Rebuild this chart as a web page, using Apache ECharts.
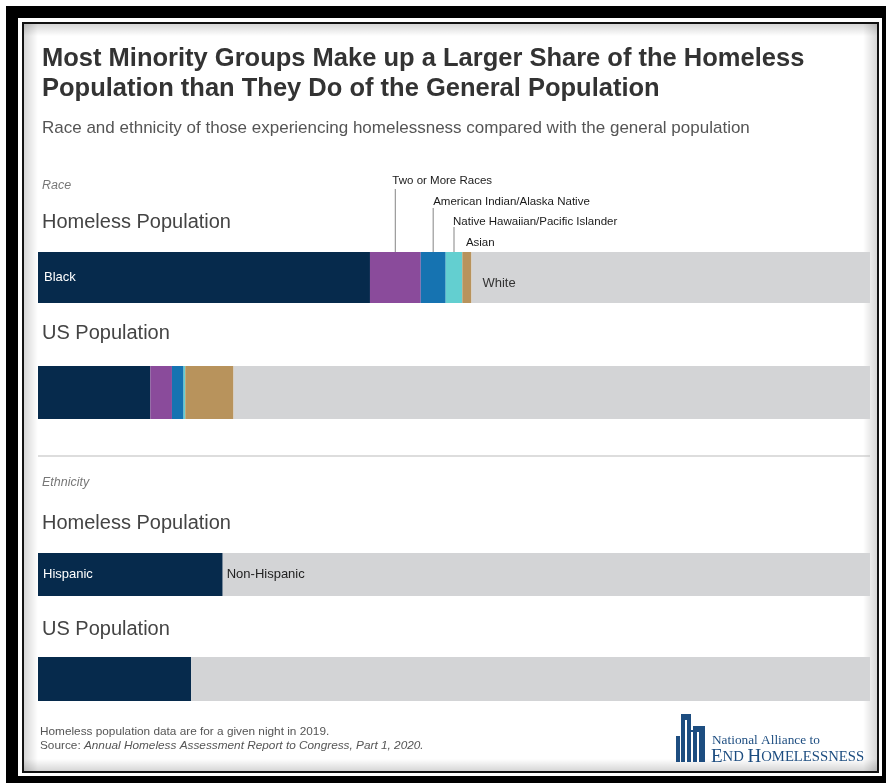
<!DOCTYPE html>
<html>
<head>
<meta charset="utf-8">
<script src="https://cdn.jsdelivr.net/npm/echarts@6/dist/echarts.min.js"></script>
<style>
  html, body { margin: 0; padding: 0; background: #fff; }
  #chart { width: 886px; height: 783px; }
</style>
</head>
<body>
<div id="chart"></div>
<script>
// data (shares in %)
const raceNames = ['Black', 'Two or More Races', 'American Indian/Alaska Native',
  'Native Hawaiian/Pacific Islander', 'Asian', 'White'];
const raceHomeless = [39.9, 6.1, 3.0, 2.0, 1.1, 47.9];
const raceUS = [13.5, 2.6, 1.4, 0.2, 5.8, 76.5];
const ethNames = ['Hispanic', 'Non-Hispanic'];
const ethHomeless = [22.2, 77.8];
const ethUS = [18.4, 81.6];

const raceColors = ['#062a4c', '#8a4b9b', '#1673b1', '#63cfd0', '#b8935c', '#d3d4d6'];
const ethColors = ['#062a4c', '#d3d4d6'];

const chart = echarts.init(document.getElementById('chart'));
const FONT = 'Liberation Sans, Arial, sans-serif';

const grids = [
  { left: 38, width: 832, top: 252, height: 51 },
  { left: 38, width: 832, top: 366, height: 53 },
  { left: 38, width: 832, top: 553, height: 43 },
  { left: 38, width: 832, top: 657, height: 44 }
];

function stack(names, values, colors, idx, labels) {
  return names.map((n, i) => ({
    type: 'bar',
    name: n,
    stack: 'g' + idx,
    xAxisIndex: idx,
    yAxisIndex: idx,
    barWidth: '100%',
    silent: true,
    itemStyle: { color: colors[i] },
    label: labels && labels[i] ? Object.assign({
      show: true,
      position: 'insideLeft',
      formatter: n,
      fontFamily: FONT,
      fontSize: 13
    }, labels[i]) : { show: false },
    data: [values[i]]
  }));
}

const series = [].concat(
  stack(raceNames, raceHomeless, raceColors, 0,
    [{ color: '#fff', offset: [1, 0] }, null, null, null, null, { color: '#333', offset: [6, 6] }]),
  stack(raceNames, raceUS, raceColors, 1),
  stack(ethNames, ethHomeless, ethColors, 2,
    [{ color: '#fff', offset: [0, 0] }, { color: '#222', offset: [-1, 0] }]),
  stack(ethNames, ethUS, ethColors, 3)
);

chart.setOption({
  animation: false,
  title: [{
    text: 'Most Minority Groups Make up a Larger Share of the Homeless\nPopulation than They Do of the General Population',
    left: 37, top: 39,
    textStyle: { fontFamily: FONT, fontSize: 25.5, fontWeight: 'bold', color: '#333', lineHeight: 30 }
  }, {
    text: 'Race and ethnicity of those experiencing homelessness compared with the general population',
    left: 37, top: 115,
    textStyle: { fontFamily: FONT, fontSize: 17, fontWeight: 'normal', color: '#555' }
  }],
  grid: grids,
  xAxis: grids.map((g, i) => ({ type: 'value', gridIndex: i, min: 0, max: 100, show: false })),
  yAxis: grids.map((g, i) => ({ type: 'category', gridIndex: i, data: ['share'], show: false })),
  series: series
});

// leader lines / labels for the thin race segments, placed via the axis scale
let cum = 0;
const mids = raceHomeless.map(v => { const m = cum + v / 2; cum += v; return m; });
const px = i => chart.convertToPixel({ xAxisIndex: 0 }, mids[i]);
const barTop = grids[0].top;

const notes = [
  { i: 1, lineTop: 189, textY: 181, dx: -3, line: true },
  { i: 2, lineTop: 208, textY: 202, dx: 0, line: true },
  { i: 3, lineTop: 227, textY: 222, dx: -1, line: true },
  { i: 4, lineTop: 0, textY: 243, dx: -1, line: false }
];

function txt(x, y, s, size, color, extra) {
  return {
    type: 'text', x: x, y: y, silent: true,
    style: Object.assign({ text: s, fontFamily: FONT, fontSize: size, fill: color, textVerticalAlign: 'middle' }, extra || {})
  };
}

const els = [];
// frame
els.push({ type: 'rect', shape: { x: 6, y: 6, width: 880, height: 777 }, style: { fill: '#000' }, z: -10 });
els.push({ type: 'rect', shape: { x: 18, y: 18, width: 864, height: 758 }, style: { fill: '#fff' }, z: -9 });
els.push({ type: 'rect', shape: { x: 22, y: 22, width: 857, height: 751 }, style: { fill: '#111' }, z: -8 });
els.push({ type: 'rect', shape: { x: 24, y: 24, width: 853, height: 747 }, style: { fill: '#fff' }, z: -7 });
// soft inner shading along the edges
const grad = (x1, y1, x2, y2) => new echarts.graphic.LinearGradient(x1, y1, x2, y2, [
  { offset: 0, color: 'rgba(0,0,0,0.16)' }, { offset: 1, color: 'rgba(0,0,0,0)' }]);
const shade = (x, y, w, h, g) => ({
  type: 'rect', shape: { x: x, y: y, width: w, height: h }, z: -6, silent: true, style: { fill: g }
});
els.push(shade(24, 24, 14, 747, grad(0, 0, 1, 0)));
els.push(shade(24, 24, 853, 12, grad(0, 0, 0, 1)));
els.push(shade(863, 24, 14, 747, grad(1, 0, 0, 0)));
els.push(shade(24, 759, 853, 12, grad(0, 1, 0, 0)));

// section labels
els.push(txt(42, 186, 'Race', 12.5, '#777', { fontStyle: 'italic' }));
els.push(txt(42, 222, 'Homeless Population', 20, '#444'));
els.push(txt(42, 333, 'US Population', 20, '#444'));
els.push({ type: 'line', shape: { x1: 38, y1: 456, x2: 870, y2: 456 }, style: { stroke: '#bbb', lineWidth: 1 } });
els.push(txt(42, 483, 'Ethnicity', 12.5, '#777', { fontStyle: 'italic' }));
els.push(txt(42, 523, 'Homeless Population', 20, '#444'));
els.push(txt(42, 629, 'US Population', 20, '#444'));

notes.forEach(n => {
  const x = px(n.i);
  if (n.line) {
    els.push({ type: 'line', shape: { x1: x, y1: n.lineTop, x2: x, y2: barTop }, style: { stroke: '#999', lineWidth: 1.2 } });
  }
  els.push(txt(x + n.dx, n.textY, raceNames[n.i], 11.5, '#1a1a1a'));
});

// footer
els.push(txt(40, 732, 'Homeless population data are for a given night in 2019.', 11.8, '#555'));
els.push({
  type: 'text', x: 40, y: 746, silent: true,
  style: {
    text: '{a|Source: }{b|Annual Homeless Assessment Report to Congress, Part 1, 2020.}',
    textVerticalAlign: 'middle',
    rich: {
      a: { fontFamily: FONT, fontSize: 11.8, fill: '#555', color: '#555' },
      b: { fontFamily: FONT, fontSize: 11.8, fontStyle: 'italic', fill: '#555', color: '#555' }
    }
  }
});

// logo
const navy = '#1d4d80';
els.push({ type: 'rect', shape: { x: 681, y: 714, width: 10, height: 48 }, style: { fill: navy } });
els.push({ type: 'rect', shape: { x: 676, y: 736, width: 4, height: 26 }, style: { fill: navy } });
els.push({ type: 'rect', shape: { x: 693, y: 726, width: 12, height: 36 }, style: { fill: navy } });
els.push({ type: 'rect', shape: { x: 685, y: 720, width: 2, height: 42 }, style: { fill: '#fff' } });
els.push({ type: 'rect', shape: { x: 697, y: 732, width: 2, height: 30 }, style: { fill: '#fff' } });
els.push({ type: 'rect', shape: { x: 689, y: 730, width: 8, height: 2 }, style: { fill: navy } });
els.push({
  type: 'text', x: 712, y: 741, silent: true,
  style: { text: 'National Alliance to', fontFamily: 'Liberation Serif, DejaVu Serif, serif', fontSize: 13.3, fill: navy, textVerticalAlign: 'middle' }
});
els.push({
  type: 'text', x: 711, y: 757, silent: true,
  style: {
    text: '{b|E}{s|ND }{b|H}{s|OMELESSNESS}',
    textVerticalAlign: 'middle',
    rich: {
      b: { fontFamily: 'Liberation Serif, serif', fontSize: 19, fill: navy, color: navy },
      s: { fontFamily: 'Liberation Serif, serif', fontSize: 14.7, fill: navy, color: navy }
    }
  }
});

chart.setOption({ graphic: { elements: els } });
window.addEventListener('resize', function () { chart.resize(); });
</script>
</body>
</html>
